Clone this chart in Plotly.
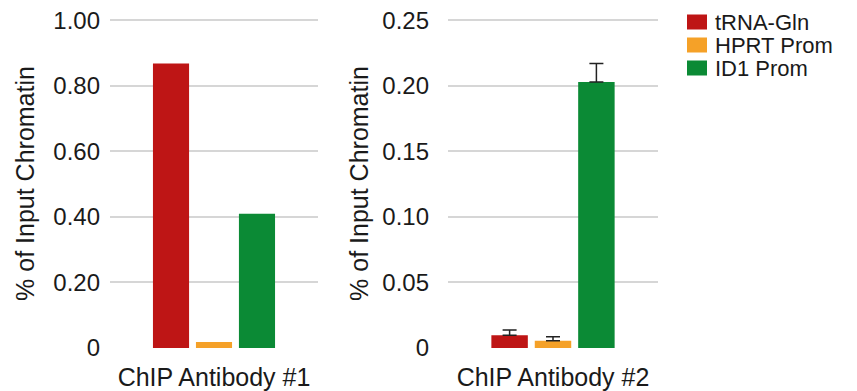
import plotly.graph_objects as go

series = ["tRNA-Gln", "HPRT Prom", "ID1 Prom"]
colors = ["#BE1515", "#F5A128", "#0B8A35"]
panel1_cat = ["ChIP Antibody #1"]
panel2_cat = ["ChIP Antibody #2"]
panel1_vals = [0.868, 0.018, 0.41]
panel2_vals = [0.0098, 0.0055, 0.203]
panel2_err = [0.004, 0.003, 0.014]
y1_ticks = [0, 0.2, 0.4, 0.6, 0.8, 1.0]
y1_ticktext = ["0", "0.20", "0.40", "0.60", "0.80", "1.00"]
y2_ticks = [0, 0.05, 0.10, 0.15, 0.20, 0.25]
y2_ticktext = ["0", "0.05", "0.10", "0.15", "0.20", "0.25"]

FONT = "Liberation Sans, Arial, Helvetica, sans-serif"
# the page body has an 8px margin: figure is drawn at (8, 8) in the window
OFF = 8
W, H = 857 - OFF, 391 - OFF


def px(x):
    return (x - OFF) / W


def py(y):
    return 1 - (y - OFF) / H


fig = go.Figure()
for i, name in enumerate(series):
    fig.add_trace(go.Bar(x=panel1_cat, y=[panel1_vals[i]], name=name,
                         marker=dict(color=colors[i], line=dict(width=0)),
                         xaxis="x", yaxis="y", showlegend=False))
    fig.add_trace(go.Bar(x=panel2_cat, y=[panel2_vals[i]], name=name,
                         marker=dict(color=colors[i], line=dict(width=0)),
                         error_y=dict(type="data", symmetric=False, array=[panel2_err[i]],
                                      arrayminus=[0], visible=True,
                                      color="#222222", thickness=1.5, width=7),
                         xaxis="x2", yaxis="y2", showlegend=False))

# custom legend (compact spacing)
leg_x0, leg_y0, leg_dy = 687, 22, 23
for i, name in enumerate(series):
    yc = leg_y0 + i * leg_dy
    fig.add_shape(type="rect", xref="paper", yref="paper",
                  x0=px(leg_x0), x1=px(leg_x0 + 20),
                  y0=py(yc + 7.5), y1=py(yc - 7.5),
                  fillcolor=colors[i], line=dict(width=0))
    fig.add_annotation(xref="paper", yref="paper", x=px(leg_x0 + 26), y=py(yc + 0.5),
                       text=name, showarrow=False, xanchor="left", yanchor="middle",
                       font=dict(family=FONT, size=22, color="#1a1a1a"))

dom_y = [py(348), py(19)]

axis_common = dict(showgrid=False, showline=False, zeroline=False, ticks="", automargin=False,
                   ticklabeloverflow="allow",
                   tickfont=dict(family=FONT, size=25, color="#1a1a1a"))
yaxis_common = dict(showgrid=True, gridcolor="#D6D6D6", gridwidth=1.5, zeroline=False,
                    showline=False, ticks="", automargin=False, ticklabeloverflow="allow",
                    tickfont=dict(family=FONT, size=24, color="#1a1a1a"),
                    title=dict(text="% of Input Chromatin",
                               font=dict(family=FONT, size=25, color="#1a1a1a")))

fig.update_layout(
    width=W, height=H,
    margin=dict(l=0, r=0, t=0, b=0),
    paper_bgcolor="white", plot_bgcolor="white",
    barmode="group", bargap=0.38, bargroupgap=0.16,
    font=dict(family=FONT, color="#1a1a1a"),
    xaxis=dict(domain=[px(110), px(318)], anchor="y", ticklabelstandoff=12, **axis_common),
    xaxis2=dict(domain=[px(448), px(658)], anchor="y2", ticklabelstandoff=12, **axis_common),
    yaxis=dict(domain=dom_y, anchor="x", range=[0, 1.004], tickvals=y1_ticks, ticktext=y1_ticktext,
               ticklabelstandoff=9, title_standoff=11, **yaxis_common),
    yaxis2=dict(domain=dom_y, anchor="x2", range=[0, 0.251], tickvals=y2_ticks, ticktext=y2_ticktext,
                ticklabelstandoff=18, title_standoff=6, **yaxis_common),
    showlegend=False,
)

fig.write_html("out.html")
